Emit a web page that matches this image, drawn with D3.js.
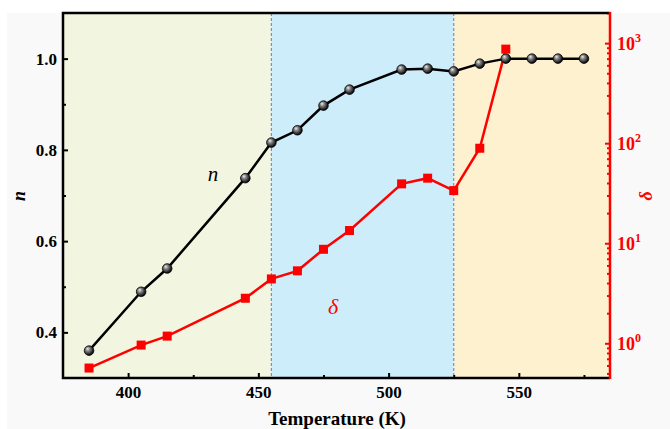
<!DOCTYPE html>
<html><head><meta charset="utf-8">
<script src="https://cdn.jsdelivr.net/npm/d3@7"></script>
<style>body{margin:0;background:#fff}svg{display:block}</style>
</head><body>
<script>
const tempN = [385,405,415,445,455,465,475,485,505,515,525,535,545,555,565,575];
const nVals = [0.360,0.489,0.540,0.738,0.816,0.843,0.897,0.932,0.976,0.978,0.972,0.989,1.0,1.0,1.0,1.0];
const tempD = [385,405,415,445,455,465,475,485,505,515,525,535,545];
const deltaVals = [0.566,0.96,1.18,2.82,4.4,5.3,8.7,13.4,39.2,44.7,33.6,89,871];
const regions = [[375,455,"#f2f5df"],[455,525,"#cdedfb"],[525,585,"#fdf1cf"]];
const xTicks = [400,450,500,550];
const xMinor = [425,475,525,575];
const nTicks = [0.4,0.6,0.8,1.0];
const nMinor = [0.5,0.7,0.9];
const dTicks = [1,10,100,1000];

const W=670,H=429, L=63,R=610,T=13,B=378;
const svg=d3.select("body").append("svg").attr("width",W).attr("height",H);
svg.append("rect").attr("x",7).attr("y",13).attr("width",W-7).attr("height",H-13).attr("fill","#f9f9f9");
const x=d3.scaleLinear().domain([375,585]).range([L,R]);
const y=d3.scaleLinear().domain([0.3,1.1]).range([B,T]);
const yd=d3.scaleLog().domain([0.45,2000]).range([B,T]);

regions.forEach(r=>svg.append("rect").attr("x",x(r[0])).attr("y",T).attr("width",x(r[1])-x(r[0])).attr("height",B-T).attr("fill",r[2]));
[455,525].forEach(v=>svg.append("line").attr("x1",x(v)).attr("x2",x(v)).attr("y1",T).attr("y2",B)
  .attr("stroke","#6d8fe0").attr("stroke-width",1.2).attr("stroke-dasharray","3,2"));

const font="'Liberation Serif','Times New Roman',serif";
// axes
const gx=svg.append("g").attr("transform",`translate(0,${B})`)
  .call(d3.axisBottom(x).tickValues(xTicks).tickSize(-5).tickPadding(8).tickFormat(d3.format("d")));
const gxm=svg.append("g").attr("transform",`translate(0,${B})`).call(d3.axisBottom(x).tickValues(xMinor).tickSize(-3).tickFormat(""));
const gy=svg.append("g").attr("transform",`translate(${L},0)`)
  .call(d3.axisLeft(y).tickValues(nTicks).tickSize(-5).tickPadding(6).tickFormat(d3.format(".1f")));
const gym=svg.append("g").attr("transform",`translate(${L},0)`).call(d3.axisLeft(y).tickValues(nMinor).tickSize(-3).tickFormat(""));
const dMinor=[];
[0.1,1,10,100,1000].forEach(d=>{for(let k=2;k<=9;k++){const v=d*k; if(v>=0.45&&v<=2000) dMinor.push(v);}});
const gd=svg.append("g").attr("transform",`translate(${R},0)`)
  .call(d3.axisRight(yd).tickValues(dTicks).tickSize(-5).tickPadding(8).tickFormat(""));
const gdm=svg.append("g").attr("transform",`translate(${R},0)`).call(d3.axisRight(yd).tickValues(dMinor).tickSize(-3).tickFormat(""));
[gx,gxm,gy,gym].forEach(g=>{g.select(".domain").remove();g.selectAll("line").attr("stroke","#000").attr("stroke-width",2);});
[gd,gdm].forEach(g=>{g.select(".domain").remove();g.selectAll("line").attr("stroke","#f00").attr("stroke-width",2);});
[gx,gy].forEach(g=>g.selectAll("text").attr("font-family",font).attr("font-weight","bold").attr("font-size",17).attr("fill","#000"));
dTicks.forEach(v=>{
  const t=svg.append("text").attr("x",R+7).attr("y",yd(v)+7).attr("font-family",font).attr("font-weight","bold").attr("font-size",18).attr("fill","#f00");
  t.append("tspan").text("10");
  t.append("tspan").attr("dy",-8).attr("font-size",12).text(Math.round(Math.log10(v)));
});
// frame
svg.append("path").attr("d",`M${R},${T}H${L}V${B}H${R}`).attr("fill","none").attr("stroke","#000").attr("stroke-width",2.5);
svg.append("line").attr("x1",R).attr("x2",R).attr("y1",T-1).attr("y2",B+1).attr("stroke","#f00").attr("stroke-width",2.5);

// series
const lineN=d3.line().x((d,i)=>x(tempN[i])).y(d=>y(d));
svg.append("path").attr("d",lineN(nVals)).attr("fill","none").attr("stroke","#000").attr("stroke-width",2.5);
const lineD=d3.line().x((d,i)=>x(tempD[i])).y(d=>yd(d));
svg.append("path").attr("d",lineD(deltaVals)).attr("fill","none").attr("stroke","#f00").attr("stroke-width",2.5);
const defs=svg.append("defs");
const grad=defs.append("radialGradient").attr("id","ball").attr("cx","0.4").attr("cy","0.4").attr("r","0.6").attr("fx","0.35").attr("fy","0.3");
grad.append("stop").attr("offset","0").attr("stop-color","#eee");
grad.append("stop").attr("offset","0.35").attr("stop-color","#888");
grad.append("stop").attr("offset","1").attr("stop-color","#000");
svg.selectAll(".dn").data(nVals).enter().append("circle")
  .attr("cx",(d,i)=>x(tempN[i])).attr("cy",d=>y(d)).attr("r",4.8).attr("fill","url(#ball)").attr("stroke","#000").attr("stroke-width",0.8);
svg.selectAll(".dd").data(deltaVals).enter().append("rect")
  .attr("x",(d,i)=>x(tempD[i])-4.5).attr("y",d=>yd(d)-4.5).attr("width",9).attr("height",9).attr("fill","#f00");

// labels
svg.append("text").attr("x",213).attr("y",181).attr("font-family",font).attr("font-style","italic").attr("font-size",21).attr("text-anchor","middle").text("n");
svg.append("text").attr("x",333).attr("y",314).attr("font-family",font).attr("font-style","italic").attr("font-size",22).attr("fill","#f00").attr("text-anchor","middle").text("δ");
svg.append("text").attr("x",337).attr("y",425).attr("font-family",font).attr("font-weight","bold").attr("font-size",19).attr("text-anchor","middle").text("Temperature (K)");
svg.append("text").attr("transform","translate(25,196) rotate(-90)").attr("font-family",font).attr("font-style","italic").attr("font-weight","bold").attr("font-size",18).attr("text-anchor","middle").text("n");
svg.append("text").attr("transform","translate(652,196) rotate(-90)").attr("font-family",font).attr("font-style","italic").attr("font-weight","bold").attr("font-size",18).attr("fill","#f00").attr("text-anchor","middle").text("δ");
</script>
</body></html>
